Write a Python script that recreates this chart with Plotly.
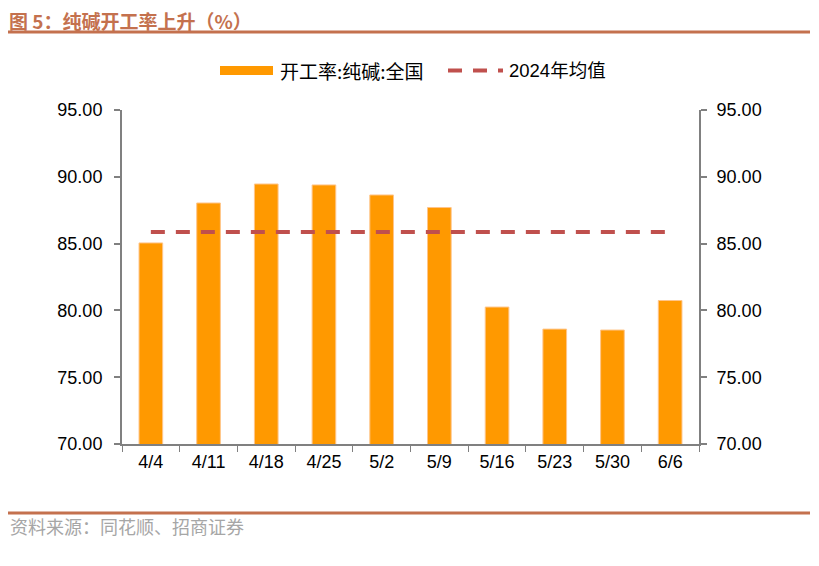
import plotly.graph_objects as go

categories = ["4/4", "4/11", "4/18", "4/25", "5/2", "5/9", "5/16", "5/23", "5/30", "6/6"]
operating_rate = [85.05, 88.04, 89.46, 89.39, 88.64, 87.70, 80.25, 78.60, 78.53, 80.74]
avg_2024 = [85.87] * len(categories)
y_ticks = [70, 75, 80, 85, 90, 95]

# page has an 8px body margin, so the figure is drawn at (8, 8)
OFF = 8
W, H = 819 - OFF, 566 - OFF
L, R, T, B = 122, 699, 110, 444  # plot area in page pixels


def px(x):
    return (x - L) / (R - L)


def py(y):
    return (B - y) / (B - T)


num_font = dict(family="Liberation Sans, Arial", size=18, color="#000000")
cjk = "Noto Sans CJK SC"

fig = go.Figure()
fig.add_trace(go.Bar(
    x=categories, y=operating_rate, name="开工率:纯碱:全国",
    marker=dict(color="#FF9900", line=dict(color="#FFC58A", width=1)),
    showlegend=False,
))
fig.add_trace(go.Scatter(
    x=categories, y=avg_2024, name="2024年均值", mode="lines",
    line=dict(color="#C0504D", width=4, dash="14px,11px"),
    yaxis="y2", showlegend=False,
))

axis_common = dict(
    range=[70, 95], tickvals=y_ticks, ticktext=[f"{v:.2f}" for v in y_ticks],
    showgrid=False, zeroline=False, showline=True, linecolor="#808080", linewidth=2,
    ticks="outside", ticklen=6, tickcolor="#808080", tickwidth=2,
    tickfont=num_font, fixedrange=True,
)

fig.update_layout(
    width=W, height=H,
    margin=dict(l=L - OFF, r=(819 - R), t=T - OFF, b=(566 - B)),
    paper_bgcolor="white", plot_bgcolor="white",
    bargap=0.59,
    xaxis=dict(
        type="category", showgrid=False, showline=True, linecolor="#808080", linewidth=2,
        ticks="outside", tickson="boundaries", ticklen=6, tickcolor="#808080", tickwidth=1,
        tickfont=num_font,
    ),
    yaxis=dict(**axis_common, ticklabelstandoff=8),
    yaxis2=dict(**axis_common, overlaying="y", side="right", ticklabelstandoff=6),
    showlegend=False,
)

shapes = [
    # title rule
    dict(type="line", xref="paper", yref="paper", x0=px(8), x1=px(810), y0=py(32), y1=py(32),
         line=dict(color="#C4714E", width=3)),
    # footer rule
    dict(type="line", xref="paper", yref="paper", x0=px(8), x1=px(810), y0=py(513), y1=py(513),
         line=dict(color="#C4714E", width=3)),
    # legend: bar swatch
    dict(type="rect", xref="paper", yref="paper", x0=px(220), x1=px(273), y0=py(75), y1=py(66),
         fillcolor="#FF9900", line=dict(width=0)),
    # legend: dashed line swatch
    dict(type="line", xref="paper", yref="paper", x0=px(448), x1=px(503), y0=py(70.5), y1=py(70.5),
         line=dict(color="#C0504D", width=4, dash="14px,11px")),
]

annotations = [
    dict(text="<b>图 5：纯碱开工率上升（%）</b>", xref="paper", yref="paper", x=px(8), y=py(20),
         xanchor="left", yanchor="middle", showarrow=False, borderpad=0,
         font=dict(family=cjk, size=19, color="#C4714E")),
    dict(text="开工率:纯碱:全国", xref="paper", yref="paper", x=px(278), y=py(71),
         xanchor="left", yanchor="middle", showarrow=False,
         font=dict(family=cjk, size=19, color="#000000")),
    dict(text="2024年均值", xref="paper", yref="paper", x=px(507), y=py(71),
         xanchor="left", yanchor="middle", showarrow=False,
         font=dict(family="Liberation Sans, " + cjk, size=18.5, color="#000000")),
    dict(text="资料来源：同花顺、招商证券", xref="paper", yref="paper", x=px(8), y=py(526),
         xanchor="left", yanchor="middle", showarrow=False,
         font=dict(family=cjk, size=18, color="#A6A6A6")),
]

fig.update_layout(shapes=shapes, annotations=annotations)
fig.write_html("out.html")
